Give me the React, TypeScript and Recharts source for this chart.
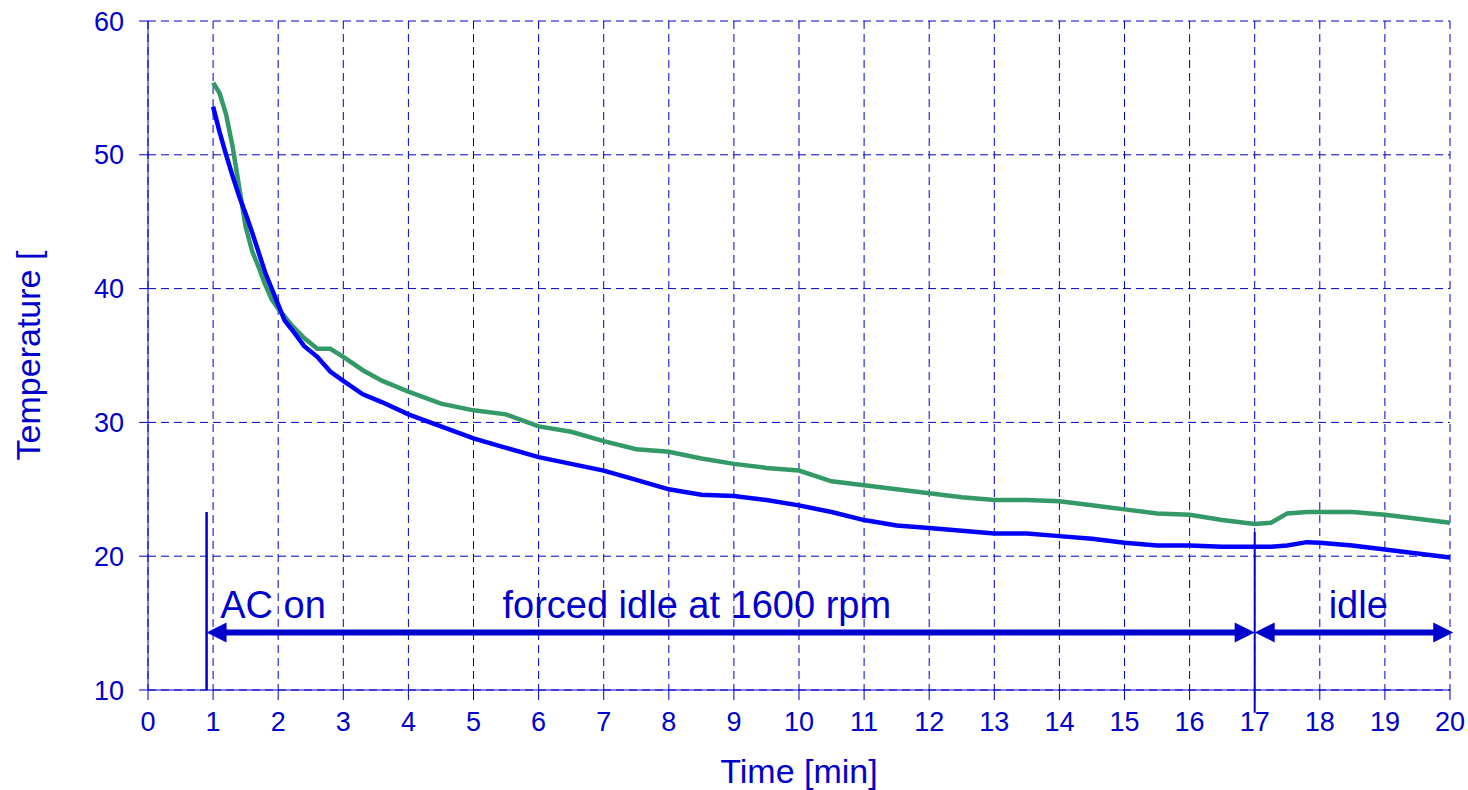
import React from 'react';
import {
  LineChart,
  Line,
  XAxis,
  YAxis,
  CartesianGrid,
  ReferenceLine,
  ReferenceDot
} from 'recharts';

const TIME = [1, 1.1, 1.2, 1.3, 1.4, 1.5, 1.6, 1.7, 1.8, 1.9, 2, 2.1, 2.2, 2.4, 2.6, 2.8, 3, 3.3, 3.6, 4, 4.5, 5, 5.5, 6, 6.5, 7, 7.5, 8, 8.5, 9, 9.5, 10, 10.5, 11, 11.5, 12, 12.5, 13, 13.5, 14, 14.5, 15, 15.5, 16, 16.5, 17, 17.25, 17.5, 17.8, 18, 18.5, 19, 19.5, 20];

const BLUE_TEMP = [53.6, 51.7, 50.0, 48.4, 46.9, 45.6, 44.2, 42.7, 41.2, 40.0, 38.8, 37.6, 37.0, 35.7, 34.9, 33.8, 33.1, 32.1, 31.5, 30.6, 29.7, 28.8, 28.1, 27.4, 26.9, 26.4, 25.7, 25.0, 24.6, 24.5, 24.2, 23.8, 23.3, 22.7, 22.3, 22.1, 21.9, 21.7, 21.7, 21.5, 21.3, 21.0, 20.8, 20.8, 20.7, 20.7, 20.7, 20.8, 21.05, 21.0, 20.8, 20.5, 20.2, 19.9];

const GREEN_TEMP = [55.4, 54.6, 53.0, 50.6, 47.6, 44.6, 42.8, 41.6, 40.3, 39.2, 38.5, 37.9, 37.3, 36.3, 35.5, 35.5, 34.9, 33.9, 33.1, 32.3, 31.4, 30.9, 30.6, 29.7, 29.3, 28.6, 28.0, 27.8, 27.3, 26.9, 26.6, 26.4, 25.6, 25.3, 25.0, 24.7, 24.4, 24.2, 24.2, 24.1, 23.8, 23.5, 23.2, 23.1, 22.7, 22.4, 22.5, 23.2, 23.3, 23.3, 23.3, 23.1, 22.8, 22.5];

const X_TICKS = [0, 1, 2, 3, 4, 5, 6, 7, 8, 9, 10, 11, 12, 13, 14, 15, 16, 17, 18, 19, 20];
const Y_TICKS = [10, 20, 30, 40, 50, 60];

const data = TIME.map((t, i) => ({ time: t, blue: BLUE_TEMP[i], green: GREEN_TEMP[i] }));

const INK = '#0000cc';
const FONT = '"Liberation Sans", Arial, sans-serif';

// double headed arrow drawn between the segment end points
const DoubleArrow = (props: any) => {
  const { x1, y1, x2, y2 } = props;
  const len = 20;
  const half = 10;
  return (
    <g>
      <line x1={x1 + len - 2} y1={y1} x2={x2 - len + 2} y2={y2} stroke={INK} strokeWidth={6} />
      <polygon points={`${x1},${y1} ${x1 + len},${y1 - half} ${x1 + len},${y1 + half}`} fill={INK} />
      <polygon points={`${x2},${y2} ${x2 - len},${y2 - half} ${x2 - len},${y2 + half}`} fill={INK} />
    </g>
  );
};

const textShape = (value: string, anchor: 'start' | 'middle') => (p: any) => (
  <text x={p.cx} y={p.cy} textAnchor={anchor} fill={INK} fontSize={38} fontFamily={FONT}>
    {value}
  </text>
);

export default function App() {
  return (
    <div style={{ width: 1468, height: 790, background: '#fff' }}>
      <style>{`body{margin:0}`}</style>
      <LineChart
        width={1468}
        height={790}
        data={data}
        margin={{ top: 21, right: 18, left: 0, bottom: 0 }}
        style={{ fontFamily: FONT }}
      >
        <CartesianGrid stroke={INK} strokeDasharray="8 5" horizontal vertical />
        <XAxis
          dataKey="time"
          type="number"
          domain={[0, 20]}
          ticks={X_TICKS}
          interval={0}
          height={100}
          stroke={INK}
          tickSize={10}
          tickMargin={12}
          tick={{ fill: INK, fontSize: 27, fontFamily: FONT }}
          label={{ value: 'Time [min]', position: 'insideBottom', offset: 7, fill: INK, fontSize: 34, fontFamily: FONT }}
        />
        <YAxis
          type="number"
          domain={[10, 60]}
          ticks={Y_TICKS}
          interval={0}
          width={148}
          stroke={INK}
          tickSize={9}
          tickMargin={15}
          tick={{ fill: INK, fontSize: 27, fontFamily: FONT }}
          label={{ value: 'Temperature [', angle: -90, position: 'insideLeft', offset: 28, fill: INK, fontSize: 34, fontFamily: FONT, style: { textAnchor: 'middle' } }}
        />

        <ReferenceLine segment={[{ x: 0.9, y: 23.3 }, { x: 0.9, y: 10 }]} stroke={INK} strokeWidth={2.5} ifOverflow="visible" />
        <ReferenceLine segment={[{ x: 17, y: 21.8 }, { x: 17, y: 8.3 }]} stroke={INK} strokeWidth={2} ifOverflow="visible" />
        <ReferenceLine segment={[{ x: 0.9, y: 14.3 }, { x: 17, y: 14.3 }]} shape={DoubleArrow} ifOverflow="visible" />
        <ReferenceLine segment={[{ x: 17, y: 14.3 }, { x: 20.05, y: 14.3 }]} shape={DoubleArrow} ifOverflow="visible" />

        <ReferenceDot x={1.11} y={15.4} r={0} shape={textShape('AC on', 'start')} ifOverflow="visible" />
        <ReferenceDot x={8.43} y={15.4} r={0} shape={textShape('forced idle at 1600 rpm', 'middle')} ifOverflow="visible" />
        <ReferenceDot x={18.59} y={15.4} r={0} shape={textShape('idle', 'middle')} ifOverflow="visible" />

        <Line type="linear" dataKey="green" stroke="#339966" strokeWidth={4.5} dot={false} isAnimationActive={false} />
        <Line type="linear" dataKey="blue" stroke="#0000ff" strokeWidth={4.5} dot={false} isAnimationActive={false} />
      </LineChart>
    </div>
  );
}
